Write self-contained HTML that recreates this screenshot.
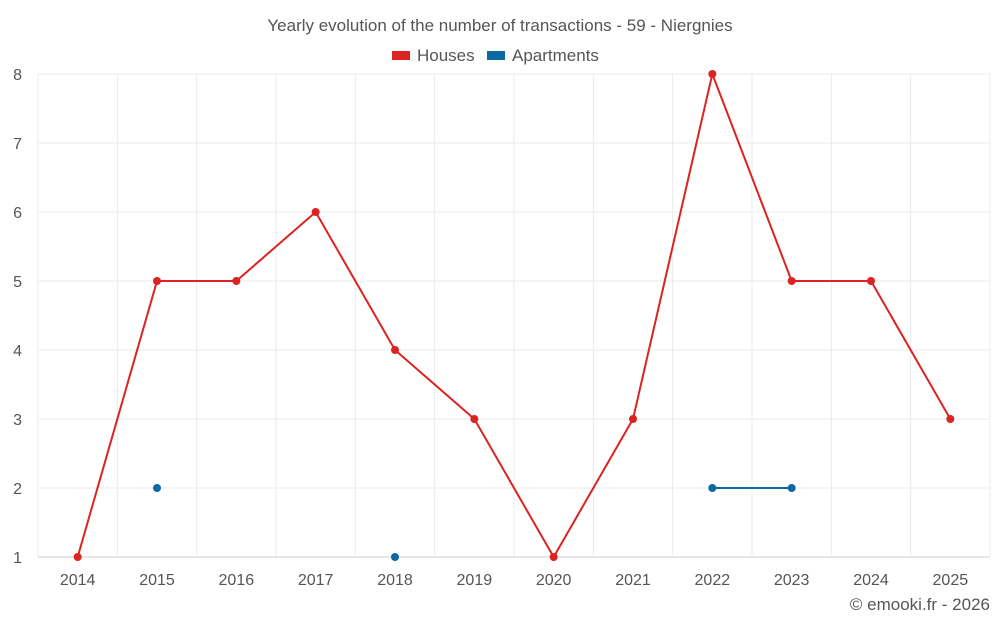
<!DOCTYPE html>
<html><head><meta charset="utf-8"><style>
body{margin:0;background:#fff;font-family:"Liberation Sans",sans-serif}
svg text{font-family:"Liberation Sans",sans-serif}
</style></head><body>
<svg id="chart" width="1000" height="625">
<text x="500" y="31" text-anchor="middle" font-size="17" fill="#555">Yearly evolution of the number of transactions - 59 - Niergnies</text>
<g><rect x="392" y="51" width="18" height="9" fill="#dd2222"/><text x="417" y="61" font-size="17" fill="#555">Houses</text></g>
<g><rect x="487" y="51" width="18" height="9" fill="#0b6aa2"/><text x="512" y="61" font-size="17" fill="#555">Apartments</text></g>
<g id="grid"></g><g id="axes"></g><g id="series"></g>
<text x="990" y="610" text-anchor="end" font-size="17" fill="#555">© emooki.fr - 2026</text>
</svg>
<script>
const years=["2014","2015","2016","2017","2018","2019","2020","2021","2022","2023","2024","2025"];
const houses=[1,5,5,6,4,3,1,3,8,5,5,3];
const apartments=[null,2,null,null,1,null,null,null,2,2,null,null];
const yTicks=[1,2,3,4,5,6,7,8];
const L=38,R=990,T=74,B=557,ymin=1,ymax=8;
const bw=(R-L)/years.length;
const xs=i=>L+bw*(i+0.5);
const ys=v=>B-(v-ymin)/(ymax-ymin)*(B-T);
const NS="http://www.w3.org/2000/svg";
function mk(t,a,p){const e=document.createElementNS(NS,t);for(const k in a)e.setAttribute(k,a[k]);p.appendChild(e);return e;}
const g=document.getElementById('grid'),ax=document.getElementById('axes'),s=document.getElementById('series');
yTicks.forEach(v=>{
 const l=mk('line',{x1:L,x2:R,y1:ys(v),y2:ys(v),stroke:v===ymin?'#ccc':'#ebebeb'},g);
 
 
 const t=mk('text',{x:22,y:ys(v)+6,'text-anchor':'end','font-size':16,fill:'#555'},ax);t.textContent=v;
 
 
});
for(let i=0;i<=years.length;i++){
 const l=mk('line',{x1:L+bw*i,x2:L+bw*i,y1:T,y2:B,stroke:'#ebebeb'},g);
 
 
}
years.forEach((y,i)=>{
 const t=mk('text',{x:xs(i),y:585,'text-anchor':'middle','font-size':16,fill:'#555'},ax);t.textContent=y;
 
 
});
function draw(data,color,name){
 let segs=[],cur=[];
 data.forEach((v,i)=>{if(v==null){if(cur.length)segs.push(cur);cur=[];}else cur.push([xs(i),ys(v)]);});
 if(cur.length)segs.push(cur);
 segs.forEach(sg=>{if(sg.length>1){const p=mk('polyline',{points:sg.map(q=>q.join(',')).join(' '),fill:'none',stroke:color,'stroke-width':2},s);
 
 }});
 data.forEach((v,i)=>{if(v==null)return;const c=mk('circle',{cx:xs(i),cy:ys(v),r:4,fill:color},s);
 
 });
}
draw(houses,'#dd2222','houses');
draw(apartments,'#0b6aa2','apartments');
</script>
</body></html>
